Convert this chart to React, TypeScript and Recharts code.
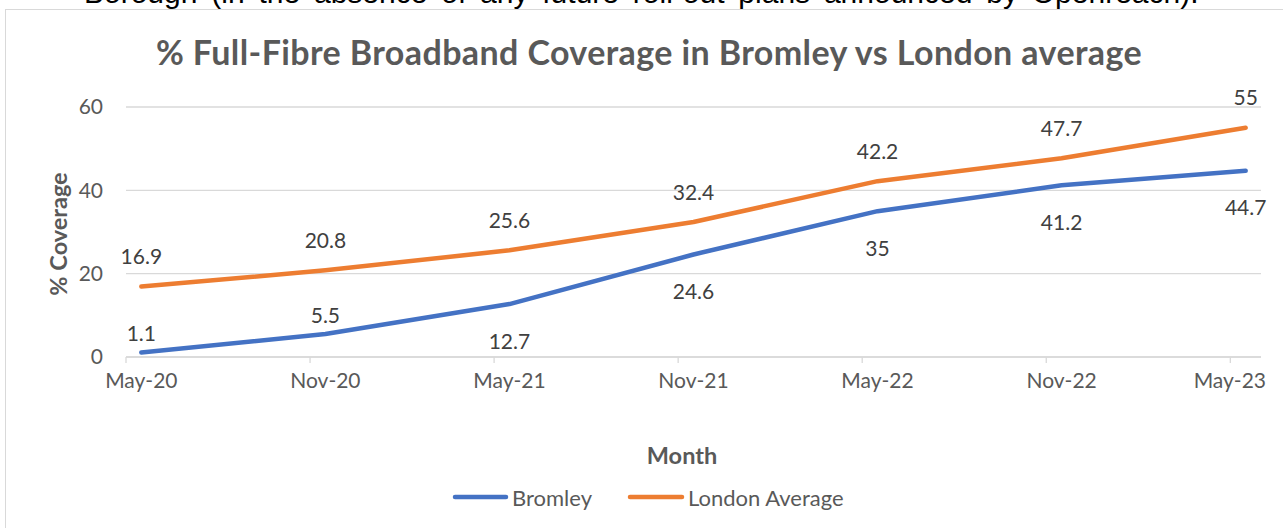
import React from 'react';
import { LineChart, Line, XAxis, YAxis, CartesianGrid, LabelList } from 'recharts';

const MONTHS = ['May-20', 'Nov-20', 'May-21', 'Nov-21', 'May-22', 'Nov-22', 'May-23'];
const BROMLEY = [1.1, 5.5, 12.7, 24.6, 35, 41.2, 44.7];
const LONDON = [16.9, 20.8, 25.6, 32.4, 42.2, 47.7, 55];
const Y_TICKS = [0, 20, 40, 60];

const W = 1283;
const H = 528;
const MARGIN = { top: 107, right: 22, bottom: 141, left: 66 };
const Y_AXIS_W = 60;
const FONT = 'Lato, "Open Sans", sans-serif';
const GREY = '#595959';
const GRID = '#d9d9d9';
const BLUE = '#4472C4';
const ORANGE = '#ED7D31';

const MONTH_NAMES = ['Jan', 'Feb', 'Mar', 'Apr', 'May', 'Jun', 'Jul', 'Aug', 'Sep', 'Oct', 'Nov', 'Dec'];
const toMonths = (label: string) => {
  const [m, y] = label.split('-');
  return (2000 + Number(y)) * 12 + MONTH_NAMES.indexOf(m);
};
const base = toMonths(MONTHS[0]);
// date axis: each point sits in the middle of its month
const data = MONTHS.map((m, i) => ({
  month: m,
  t: toMonths(m) - base + 0.5,
  bromley: BROMLEY[i],
  london: LONDON[i],
}));
const xMax = toMonths(MONTHS[MONTHS.length - 1]) - base + 1;
const xTicks = data.map(d => d.t - 0.5);
const plotW = W - MARGIN.left - Y_AXIS_W - MARGIN.right;
const halfMonth = plotW / xMax / 2;

const MonthTick = (props: any) => {
  const { x, y, index } = props;
  const label = MONTHS[index];
  const last = index === MONTHS.length - 1;
  return (
    <text
      x={last ? W - 17 : x + halfMonth}
      y={y}
      dy="0.71em"
      textAnchor={last ? 'end' : 'middle'}
      fill={GREY}
      fontSize={21}
      fontFamily={FONT}
    >
      {label}
    </text>
  );
};

const makeLabel = (series: 'bromley' | 'london') => (props: any) => {
  const { x, y, value, index } = props;
  let dy = -31;
  if (series === 'bromley') dy = index < 2 ? -20 : 36;
  return (
    <text
      x={x}
      y={y + dy}
      textAnchor="middle"
      dominantBaseline="central"
      fill="#404040"
      fontSize={21}
      fontFamily={FONT}
    >
      {value}
    </text>
  );
};

export default function App() {
  return (
    <div style={{ position: 'absolute', left: 0, top: 0, width: W, height: H, overflow: 'hidden', background: '#fff' }}>
      <svg width={W} height={H} style={{ position: 'absolute', left: 0, top: 0 }}>
        <text x={84} y={3} fontFamily='"Liberation Sans", Arial, sans-serif' fontSize={30} wordSpacing={5.5} fill="#000">
          Borough (in the absence of any future roll-out plans announced by Openreach).
        </text>
        <rect x={5.5} y={9.5} width={1400} height={700} fill="#fff" stroke={GRID} />
        <text x={649} y={65} textAnchor="middle" fontFamily={FONT} fontWeight={700} fontSize={34} letterSpacing={0.4} fill={GREY}>
          % Full-Fibre Broadband Coverage in Bromley vs London average
        </text>
        <text
          x={58}
          y={234}
          transform="rotate(-90 58 234)"
          textAnchor="middle"
          dominantBaseline="central"
          fontFamily={FONT}
          fontWeight={700}
          fontSize={23.5}
          fill={GREY}
        >
          % Coverage
        </text>
        <text x={682} y={455} textAnchor="middle" dominantBaseline="central" fontFamily={FONT} fontWeight={700} fontSize={23.5} fill={GREY}>
          Month
        </text>
        <line x1={455} y1={497} x2={506} y2={497} stroke={BLUE} strokeWidth={4.5} strokeLinecap="round" />
        <text x={512} y={497} dominantBaseline="central" fontFamily={FONT} fontSize={22} fill={GREY}>Bromley</text>
        <line x1={630} y1={497} x2={682} y2={497} stroke={ORANGE} strokeWidth={4.5} strokeLinecap="round" />
        <text x={688} y={497} dominantBaseline="central" fontFamily={FONT} fontSize={22} fill={GREY}>London Average</text>
      </svg>
      <div style={{ position: 'absolute', left: 0, top: 0 }}>
        <LineChart width={W} height={H} data={data} margin={MARGIN}>
          <CartesianGrid vertical={false} stroke={GRID} strokeWidth={1.3} />
          <XAxis
            dataKey="t"
            type="number"
            domain={[0, xMax]}
            ticks={xTicks}
            interval={0}
            height={30}
            axisLine={{ stroke: GRID, strokeWidth: 1.3 }}
            tickLine={{ stroke: GRID, strokeWidth: 1.3 }}
            tickSize={6}
            tickMargin={10}
            tick={<MonthTick />}
          />
          <YAxis
            domain={[0, 60]}
            ticks={Y_TICKS}
            width={Y_AXIS_W}
            axisLine={false}
            tickLine={false}
            tickMargin={17}
            tick={{ fill: GREY, fontSize: 21, fontFamily: FONT }}
          />
          <Line
            dataKey="bromley"
            type="linear"
            stroke={BLUE}
            strokeWidth={4.5}
            strokeLinecap="round"
            strokeLinejoin="round"
            dot={false}
            isAnimationActive={false}
          >
            <LabelList dataKey="bromley" content={makeLabel('bromley')} />
          </Line>
          <Line
            dataKey="london"
            type="linear"
            stroke={ORANGE}
            strokeWidth={4.5}
            strokeLinecap="round"
            strokeLinejoin="round"
            dot={false}
            isAnimationActive={false}
          >
            <LabelList dataKey="london" content={makeLabel('london')} />
          </Line>
        </LineChart>
      </div>
    </div>
  );
}
